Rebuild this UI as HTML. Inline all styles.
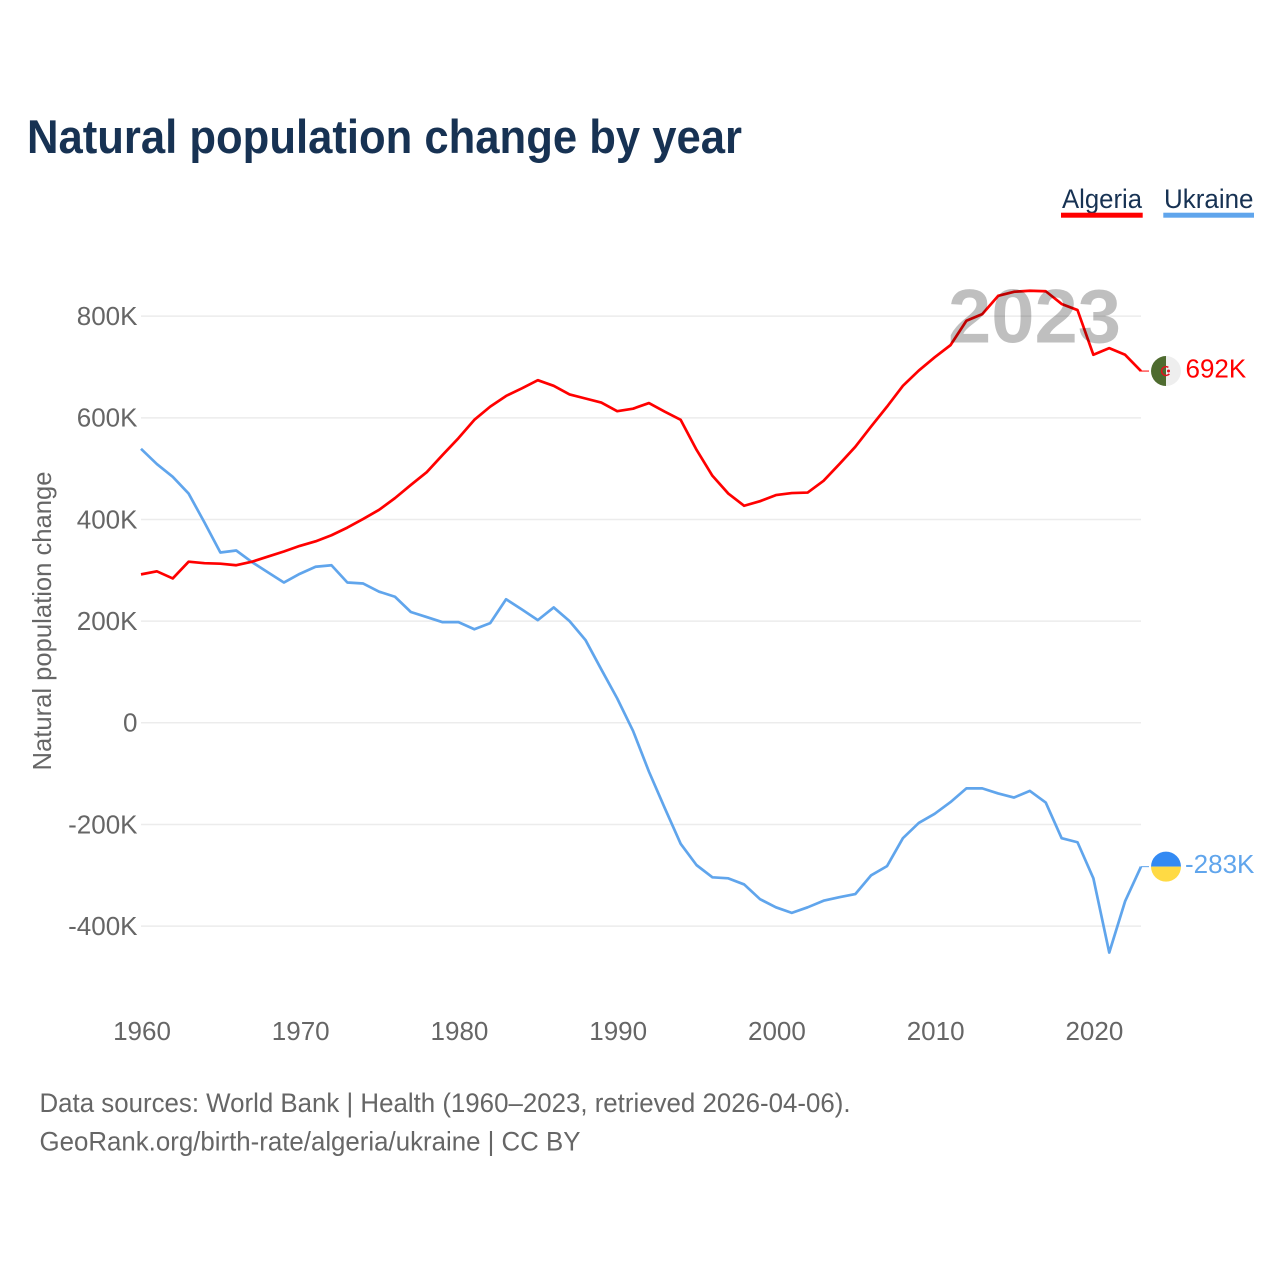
<!DOCTYPE html>
<html lang="en">
<head>
<meta charset="utf-8">
<title>Natural population change by year</title>
<style>
html,body{margin:0;padding:0;background:#fff;}
body{width:1280px;height:1280px;overflow:hidden;}
svg{display:block;font-family:"Liberation Sans",sans-serif;}
</style>
</head>
<body>
<svg id="chart" xmlns="http://www.w3.org/2000/svg" width="1280" height="1280" viewBox="0 0 1280 1280">
  <rect x="0" y="0" width="1280" height="1280" fill="#ffffff"/>
  <text x="27" y="153" font-size="47" font-weight="bold" fill="#173253" textLength="715" lengthAdjust="spacingAndGlyphs">Natural population change by year</text>

  <g>
    <g>
      <text x="1062" y="208" font-size="27" fill="#173253" textLength="80" lengthAdjust="spacingAndGlyphs">Algeria</text>
      <rect x="1061" y="212.7" width="81.7" height="5" fill="#ff0000"/>
    </g>
    <g>
      <text x="1164" y="208" font-size="27" fill="#173253" textLength="89.5" lengthAdjust="spacingAndGlyphs">Ukraine</text>
      <rect x="1163.3" y="212.7" width="90.7" height="5" fill="#60a5ec"/>
    </g>
  </g>

  <text transform="translate(51 770.5) rotate(-90)" font-size="26" fill="#666666" textLength="299" lengthAdjust="spacingAndGlyphs">Natural population change</text>

  <g id="grid"></g>
  <g id="y-ticks"></g>
  <g id="x-ticks"></g>
  <g id="series"></g>
  <g id="end-markers"></g>

  <text x="948" y="342.5" font-size="76" font-weight="bold" fill="#000000" fill-opacity="0.25" textLength="173" lengthAdjust="spacingAndGlyphs">2023</text>

  <text x="39.5" y="1112" font-size="26.5" fill="#666666" textLength="811" lengthAdjust="spacingAndGlyphs">Data sources: World Bank | Health (1960–2023, retrieved 2026-04-06).</text>
  <text x="39.5" y="1150.5" font-size="26.5" fill="#666666" textLength="541" lengthAdjust="spacingAndGlyphs">GeoRank.org/birth-rate/algeria/ukraine | CC BY</text>
</svg>
<script>
const years = [1960,1961,1962,1963,1964,1965,1966,1967,1968,1969,1970,1971,1972,1973,1974,1975,1976,1977,1978,1979,1980,1981,1982,1983,1984,1985,1986,1987,1988,1989,1990,1991,1992,1993,1994,1995,1996,1997,1998,1999,2000,2001,2002,2003,2004,2005,2006,2007,2008,2009,2010,2011,2012,2013,2014,2015,2016,2017,2018,2019,2020,2021,2022,2023];
const algeriaValues = [292,298,284,317,314,313,310,317,327,337,348,357,369,384,401,419,442,468,493,527,560,596,622,643,658,674,663,646,638,630,613,618,629,612,596,537,486,451,427,436,448,452,453,476,509,543,583,622,663,693,719,743,791,804,840,848,850,849,824,812,724,737,724,692];
const ukraineValues = [539,509,484,451,394,335,339,316,296,276,293,307,310,276,274,258,248,218,208,198,198,184,196,243,223,202,227,200,163,105,48,-16,-96,-168,-238,-280,-304,-306,-318,-347,-363,-374,-363,-350,-343,-337,-300,-282,-227,-197,-179,-156,-129,-129,-139,-147,-134,-157,-227,-235,-306,-452,-351,-283];
const yTickValues = [800,600,400,200,0,-200,-400];
const yTickLabels = ["800K","600K","400K","200K","0","-200K","-400K"];
const xTickValues = [1960,1970,1980,1990,2000,2010,2020];
const xTickLabels = ["1960","1970","1980","1990","2000","2010","2020"];
const algeriaEndLabel = "692K";
const ukraineEndLabel = "-283K";

const SVGNS = "http://www.w3.org/2000/svg";
const plotLeft = 141, plotRight = 1141;
const xScale = v => plotLeft + (v - 1960) * (plotRight - plotLeft) / 63;
const yScale = v => 722.8 - 0.5083 * v;

function make(tag, parent, attrs) {
  const el = document.createElementNS(SVGNS, tag);
  for (const k in attrs) el.setAttribute(k, attrs[k]);
  parent.appendChild(el);
  return el;
}

const grid = document.getElementById("grid");
const yTicks = document.getElementById("y-ticks");
const xTicks = document.getElementById("x-ticks");
const seriesG = document.getElementById("series");
const markers = document.getElementById("end-markers");

yTickValues.forEach((v, i) => {
  const y = yScale(v);
  const line = make("line", grid, {x1: plotLeft, x2: plotRight, y1: y, y2: y, stroke: "#ececec", "stroke-width": 1.5});
  
  
  const t = make("text", yTicks, {x: 137.5, y: y + 8.8, "text-anchor": "end", "font-size": 26, fill: "#666666"});
  t.textContent = yTickLabels[i];
  
  
});

xTickValues.forEach((v, i) => {
  const t = make("text", xTicks, {x: xScale(v) + 1, y: 1040, "text-anchor": "middle", "font-size": 26, fill: "#666666"});
  t.textContent = xTickLabels[i];
  
  
});

function pathFor(values) {
  return values.map((v, i) => (i ? "L" : "M") + xScale(years[i]).toFixed(2) + " " + yScale(v).toFixed(2)).join(" ");
}

const ukraineLine = make("path", seriesG, {d: pathFor(ukraineValues), fill: "none", stroke: "#60a5ec", "stroke-width": 2.7, "stroke-linejoin": "round"});



const algeriaLine = make("path", seriesG, {d: pathFor(algeriaValues), fill: "none", stroke: "#ff0000", "stroke-width": 2.7, "stroke-linejoin": "round"});



const cx = 1166, r = 15;

// Algeria end marker
const ay = yScale(algeriaValues[algeriaValues.length - 1]);
const aConn = make("line", markers, {x1: plotRight, x2: 1149, y1: ay, y2: ay, stroke: "#ff0000", "stroke-width": 1});


const aFlag = make("g", markers, {});


make("circle", aFlag, {cx: cx, cy: ay, r: r, fill: "#eeeeee"});
make("path", aFlag, {d: `M${cx} ${ay - r} A${r} ${r} 0 0 0 ${cx} ${ay + r} Z`, fill: "#4e6b2f"});
make("circle", aFlag, {cx: cx, cy: ay, r: 4.4, fill: "none", stroke: "#e3101e", "stroke-width": 1.5, "stroke-dasharray": "20 8", transform: `rotate(40 ${cx} ${ay})`});
make("circle", aFlag, {cx: cx + 2.5, cy: ay, r: 1.5, fill: "#e3101e"});
const aVal = make("text", markers, {x: 1185.5, y: ay + 6.2, "font-size": 26, fill: "#ff0000"});
aVal.textContent = algeriaEndLabel;



// Ukraine end marker
const uy = yScale(ukraineValues[ukraineValues.length - 1]);
const uConn = make("line", markers, {x1: plotRight, x2: 1149, y1: uy, y2: uy, stroke: "#60a5ec", "stroke-width": 1});


const uFlag = make("g", markers, {});


make("path", uFlag, {d: `M${cx - r} ${uy} A${r} ${r} 0 0 1 ${cx + r} ${uy} Z`, fill: "#338af3"});
make("path", uFlag, {d: `M${cx - r} ${uy} A${r} ${r} 0 0 0 ${cx + r} ${uy} Z`, fill: "#ffda44"});
const uVal = make("text", markers, {x: 1185, y: uy + 6.2, "font-size": 26, fill: "#60a5ec"});
uVal.textContent = ukraineEndLabel;


</script>
</body>
</html>
